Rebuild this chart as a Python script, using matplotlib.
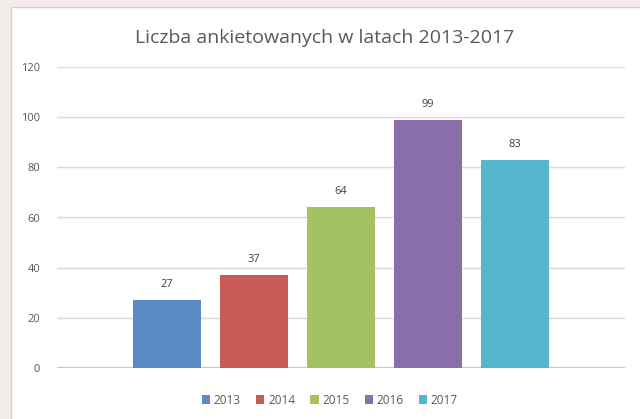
import matplotlib.pyplot as plt
from matplotlib.patches import Rectangle

# dane
years = ['2013', '2014', '2015', '2016', '2017']
counts = [27, 37, 64, 99, 83]
colors = ['#5b8bc4', '#c85b56', '#a5c262', '#8a6eaa', '#55b5cc']

plt.rcParams['font.family'] = ['Open Sans', 'DejaVu Sans']

fig = plt.figure(figsize=(6.4, 4.19), dpi=100)
fig.patch.set_facecolor('#f4ecea')

# biale tlo wykresu (ramka ze screenshota)
fig.patches.append(Rectangle((11 / 640, -0.05), 1.0, 1 - 7 / 419 + 0.05,
                             transform=fig.transFigure, facecolor='white',
                             edgecolor='#d0d0d0', linewidth=1, zorder=-5))

ax = fig.add_axes([57 / 640, 1 - 368 / 419, (625 - 57) / 640, (368 - 67) / 419])
ax.set_facecolor('none')
ax.set_zorder(2)

x = range(len(years))
bars = ax.bar(x, counts, width=0.78, color=colors, label=years, zorder=3)
for xi, v in zip(x, counts):
    ax.text(xi, v + 4, str(v), ha='center', va='bottom', fontsize=8, color='#404040')

ax.set_ylim(0, 120)
ax.set_yticks(range(0, 121, 20))
ax.set_xlim(-1.265, 5.265)
ax.set_xticks([])
ax.grid(axis='y', color='#d9d9d9', linewidth=1, zorder=0)
ax.axhline(0, color='#c8c8c8', linewidth=1.5, zorder=2)
for s in ax.spines.values():
    s.set_visible(False)
ax.tick_params(axis='y', length=0, labelsize=8, labelcolor='#595959', pad=12)

fig.text(325 / 640, 1 - 38 / 419, 'Liczba ankietowanych w latach 2013-2017',
         ha='center', va='center', fontsize=14, color='#595959')

fig.legend(handles=bars, labels=years, loc='center', bbox_to_anchor=(330 / 640, 1 - 400 / 419),
           ncol=5, frameon=False, fontsize=8.5, handlelength=0.7, handleheight=0.7,
           columnspacing=1.3, handletextpad=0.3, labelcolor='#595959')

fig.savefig('out.png', dpi=100, facecolor=fig.get_facecolor())
